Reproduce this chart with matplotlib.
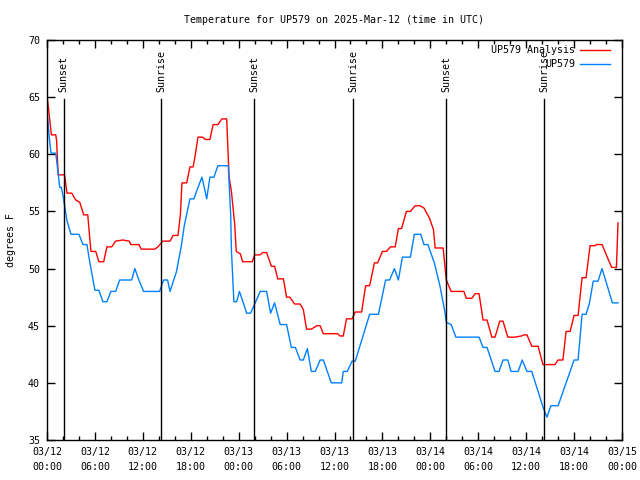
import datetime as dt
import matplotlib
matplotlib.use("Agg")
import matplotlib.pyplot as plt
import matplotlib.dates as mdates
import matplotlib.transforms as mtransforms

# hours after 2025-03-12 00:00 UTC, temperature in degrees F
analysis_hours = [0, 0.25, 0.55, 1.1, 1.2, 1.4, 2.2, 2.5, 3.1, 3.6, 4.1, 4.6, 5.1, 5.5, 6.1,
                  6.5, 7.1, 7.5, 8.1, 8.6, 9.5, 10.3, 10.5, 11.5, 11.8, 13.5, 13.9, 14.5, 15.4,
                  15.8, 16.4, 16.7, 16.9, 17.5, 17.9, 18.3, 18.6, 18.9, 19.5, 19.8, 20.4, 20.8,
                  21.4, 21.9, 22.5, 22.8, 23.1, 23.5, 23.7, 24.2, 24.5, 25.7, 26.0, 26.7, 27.0,
                  27.5, 28.1, 28.5, 28.9, 29.6, 30.0, 30.4, 31.0, 31.7, 32.1, 32.5, 33.1, 33.8,
                  34.2, 34.6, 36.4, 36.7, 37.1, 37.5, 38.2, 38.6, 39.4, 39.9, 40.4, 41.0, 41.4,
                  42.0, 42.5, 43.0, 43.6, 44.0, 44.4, 45.0, 45.5, 46.1, 46.7, 47.2, 47.9, 48.4,
                  48.6, 49.6, 50.0, 50.6, 52.2, 52.5, 53.2, 53.6, 54.1, 54.6, 55.1, 55.7, 56.1,
                  56.7, 57.1, 57.7, 58.6, 59.4, 59.7, 60.1, 60.7, 61.5, 62.1, 63.6, 64.0, 64.6,
                  65.0, 65.5, 66.0, 66.5, 67.0, 67.5, 68.0, 68.6, 68.8, 69.5, 70.7, 71.3, 71.5]
analysis_temp = [65.2, 63.6, 61.7, 61.7, 61.2, 58.2, 58.2, 56.6, 56.6, 56.0, 55.8, 54.7, 54.7, 51.5, 51.5,
                 50.6, 50.6, 51.9, 51.9, 52.4, 52.5, 52.4, 52.1, 52.1, 51.7, 51.7, 51.9, 52.4, 52.4,
                 52.9, 52.9, 54.7, 57.5, 57.5, 58.9, 58.9, 60.1, 61.5, 61.5, 61.3, 61.3, 62.6,
                 62.6, 63.1, 63.1, 58.0, 56.7, 53.9, 51.5, 51.3, 50.6, 50.6, 51.2, 51.2, 51.4,
                 51.4, 50.2, 50.2, 49.1, 49.1, 47.5, 47.5, 46.9, 46.9, 46.4, 44.7, 44.7, 45.0,
                 45.0, 44.3, 44.3, 44.1, 44.1, 45.6, 45.6, 46.2, 46.2, 48.5, 48.5, 50.5, 50.5,
                 51.5, 51.5, 51.9, 51.9, 53.5, 53.5, 55.0, 55.0, 55.5, 55.5, 55.3, 54.4, 53.4,
                 51.8, 51.8, 49.0, 48.0, 48.0, 47.4, 47.4, 47.8, 47.8, 45.5, 45.5, 44.0, 44.0,
                 45.4, 45.4, 44.0, 44.0, 44.1, 44.2, 44.2, 43.2, 43.2, 41.6, 41.6, 42.0, 42.0,
                 44.5, 44.5, 45.9, 45.9, 49.2, 49.2, 52.0, 52.0, 52.1, 52.1, 50.1, 50.1, 54.0]

station_hours = [0, 0.25, 0.5, 1.1, 1.3, 1.6, 1.8, 2.0, 2.5, 3.0, 4.0, 4.5, 5.0, 5.3, 6.0, 6.5,
                 7.0, 7.5, 8.0, 8.6, 9.1, 10.6, 11.0, 11.5, 12.1, 14.1, 14.6, 15.1, 15.4, 16.2,
                 16.8, 17.2, 17.9, 18.4, 18.8, 19.4, 20.0, 20.4, 20.9, 21.4, 22.7, 23.0, 23.1,
                 23.4, 23.75, 24.1, 25.0, 25.5, 26.7, 27.5, 28.0, 28.5, 29.2, 30.0, 30.6, 31.1,
                 31.7, 32.1, 32.6, 33.1, 33.6, 34.2, 34.6, 35.6, 36.9, 37.1, 37.6, 38.2, 38.6,
                 40.4, 41.5, 42.4, 42.9, 43.5, 44.0, 44.5, 45.5, 46.0, 46.8, 47.2, 47.7, 48.5,
                 49.2, 49.8, 50.0, 50.6, 51.2, 54.1, 54.6, 55.1, 56.1, 56.6, 57.1, 57.7, 58.1,
                 59.0, 59.5, 60.1, 60.7, 62.1, 62.6, 63.1, 64.0, 66.0, 66.5, 67.0, 67.5, 67.9,
                 68.4, 69.0, 69.5, 70.8, 71.5]
station_temp = [64.0, 61.7, 60.1, 60.1, 58.9, 57.1, 57.1, 56.4, 54.2, 53.0, 53.0, 52.1, 52.1, 50.8, 48.1, 48.1,
                47.1, 47.1, 48.0, 48.0, 49.0, 49.0, 50.0, 49.0, 48.0, 48.0, 49.0, 49.0, 48.0, 49.7,
                51.9, 53.8, 56.1, 56.1, 56.9, 58.0, 56.1, 58.0, 58.0, 59.0, 59.0, 54.7, 51.5,
                47.1, 47.1, 48.0, 46.1, 46.1, 48.0, 48.0, 46.1, 47.0, 45.1, 45.1, 43.1, 43.1,
                42.0, 42.0, 43.0, 41.0, 41.0, 42.0, 42.0, 40.0, 40.0, 41.0, 41.0, 41.9, 41.9,
                46.0, 46.0, 49.0, 49.0, 50.0, 49.0, 51.0, 51.0, 53.0, 53.0, 52.1, 52.1, 50.5,
                48.5, 46.3, 45.3, 45.1, 44.0, 44.0, 43.1, 43.1, 41.0, 41.0, 42.0, 42.0, 41.0,
                41.0, 42.0, 41.0, 41.0, 37.9, 37.0, 38.0, 38.0, 42.0, 42.0, 46.0, 46.0, 46.9,
                48.9, 48.9, 50.0, 47.0, 47.0]

# sun events, hours after start
sun_hours = [2.07, 14.27, 25.92, 38.32, 49.96, 62.23]
sun_labels = ["Sunset", "Sunrise", "Sunset", "Sunrise", "Sunset", "Sunrise"]

start = dt.datetime(2025, 3, 12, 0, 0)
def to_time(hours):
    return [start + dt.timedelta(hours=h) for h in hours]

font = "DejaVu Sans Mono"
fs = 7.2
plt.rcParams["font.family"] = font
plt.rcParams["font.size"] = fs

fig = plt.figure(figsize=(6.4, 4.8), dpi=100)
ax = fig.add_axes([47 / 640, 40 / 480, 575 / 640, 400 / 480])

ax.plot(to_time(analysis_hours), analysis_temp, color="#ff0000", lw=1.0)
ax.plot(to_time(station_hours), station_temp, color="#0080ff", lw=1.0)

trans = mtransforms.blended_transform_factory(ax.transData, ax.transAxes)
for t, lab in zip(to_time(sun_hours), sun_labels):
    ax.axvline(t, ymin=0, ymax=0.8525, color="black", lw=1.0)
    ax.text(t, 0.87, lab, rotation=90, transform=trans, ha="center", va="bottom",
            fontsize=fs)

# legend, gnuplot style (no box)
for y, lab, c in [(0.975, "UP579 Analysis", "#ff0000"), (0.94, "UP579", "#0080ff")]:
    ax.text(0.918, y, lab, transform=ax.transAxes, ha="right", va="center", fontsize=fs)
    ax.plot([0.927, 0.979], [y, y], transform=ax.transAxes, color=c, lw=1.0, clip_on=False)

ax.set_xlim(start, start + dt.timedelta(hours=72))
ax.set_ylim(35, 70)
ax.set_yticks([35, 40, 45, 50, 55, 60, 65, 70])
ax.xaxis.set_major_locator(mdates.HourLocator(byhour=[0, 6, 12, 18]))
ax.xaxis.set_minor_locator(mdates.HourLocator(interval=2))
ax.xaxis.set_major_formatter(mdates.DateFormatter("%m/%d\n%H:%M"))
ax.tick_params(which="both", direction="in", top=True, right=True, width=1.0, colors="black")
ax.tick_params(which="major", length=6, pad=5)
ax.tick_params(which="minor", length=3)
for lab in ax.get_xticklabels():
    lab.set_linespacing(1.6)
for s in ax.spines.values():
    s.set_linewidth(1.0)

ax.set_ylabel("degrees F", fontsize=fs, labelpad=9)
ax.set_title("Temperature for UP579 on 2025-Mar-12 (time in UTC)", fontsize=fs, pad=12)

fig.savefig("out.png", dpi=100)
